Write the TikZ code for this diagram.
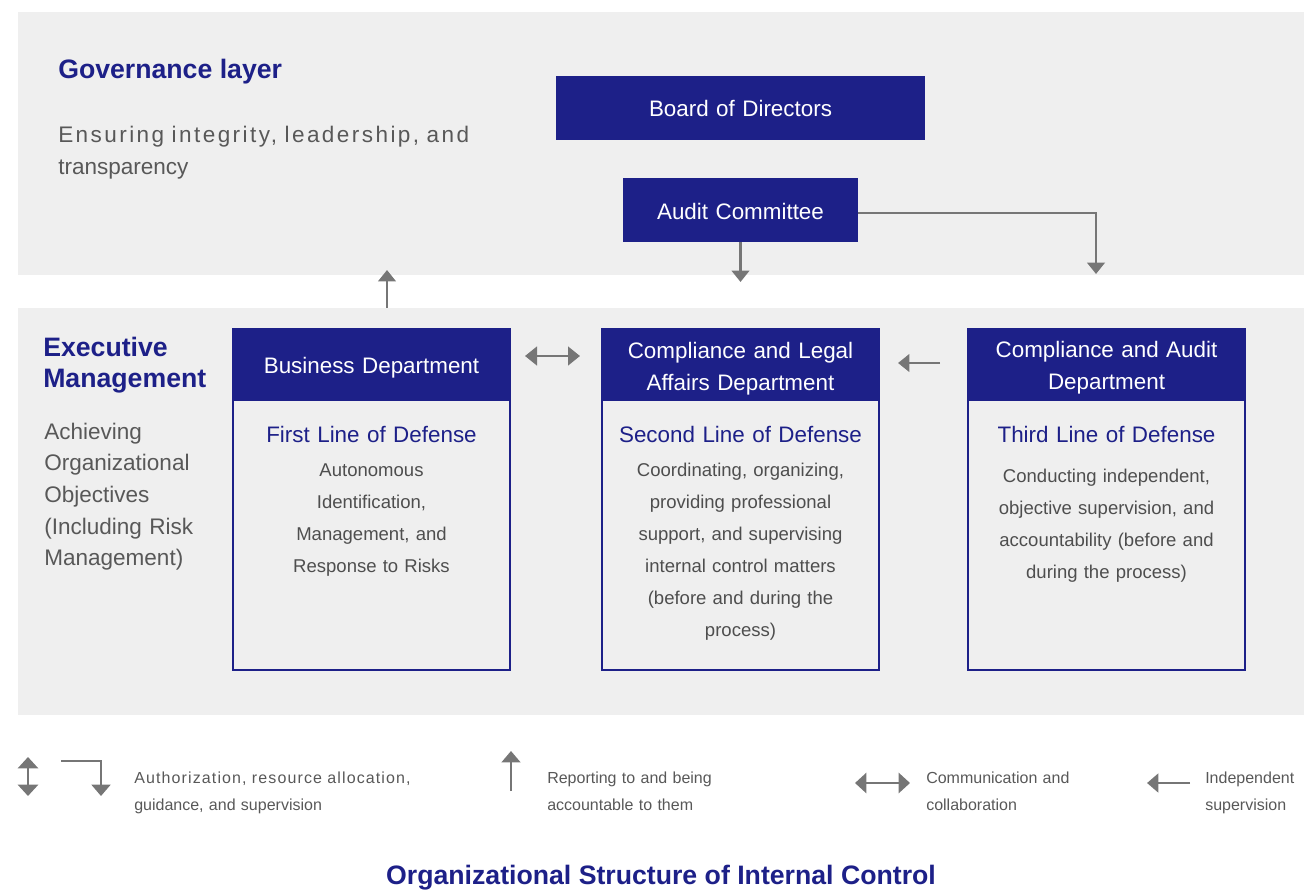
\documentclass[tikz,border=0pt]{standalone}
\usepackage{fontspec}
\setmainfont{Liberation Sans}
\usetikzlibrary{arrows.meta,fit}
\definecolor{navy}{RGB}{29,32,136}
\definecolor{bandc}{RGB}{239,239,239}
\definecolor{arr}{RGB}{118,118,118}
\definecolor{graytxt}{RGB}{88,88,88}
\definecolor{bodytxt}{RGB}{78,78,78}
\begin{document}
\begin{tikzpicture}[x=0.75pt,y=-0.75pt,
  band/.style={fill=bandc,draw=none,inner sep=0pt},
  navybox/.style={fill=navy,draw=none,inner sep=0pt},
  framebox/.style={draw=navy,line width=1.6pt,inner sep=0pt},
  hdrtext/.style={inner sep=0pt,text=white,font=\fontsize{16.8pt}{24pt}\selectfont,text width=202pt,align=center},
  linetitle/.style={inner sep=0pt,text=navy,font=\fontsize{16.8pt}{24pt}\selectfont,text width=202pt,align=center},
  bodytext/.style={inner sep=0pt,text=bodytxt,font=\fontsize{13.9pt}{24pt}\selectfont,text width=202pt,align=center},
  bighead/.style={inner sep=0pt,text=navy,font=\bfseries\fontsize{20pt}{23.25pt}\selectfont},
  sidetext/.style={inner sep=0pt,text=graytxt,font=\fontsize{16.9pt}{23.8pt}\selectfont,text width=330pt,align=left},
  legtext/.style={inner sep=0pt,text=graytxt,font=\fontsize{12pt}{20.25pt}\selectfont,text width=220pt,align=left},
  conn/.style={draw=arr,line width=2.1pt,-{Triangle[length=8.5pt,width=13pt]}},
  twoway/.style={draw=arr,line width=1.9pt,{Triangle[length=9pt,width=14pt]}-{Triangle[length=9pt,width=14pt]}},
  legconn/.style={draw=arr,line width=2.1pt,-{Triangle[length=8.5pt,width=14pt]}},
  legtwo/.style={draw=arr,line width=2.1pt,{Triangle[length=8.5pt,width=15pt]}-{Triangle[length=8.5pt,width=15pt]}}
]
\useasboundingbox (0,0) rectangle (1308,889);

% bands
\node[band,fit={(18,12)(1304,275)}] (gov) {};
\node[band,fit={(18,308)(1304,715)}] (exec) {};

% governance texts
\node[bighead,anchor=base west] (govtitle) at (58,78) {Governance layer};
\node[sidetext,anchor=base west,font=\fontsize{16.9pt}{24pt}\selectfont] (govdesc) at (58,142)
  {{\addfontfeature{LetterSpace=10.8}Ensuring integrity, leadership, and}\\transparency};

% board and audit committee
\node[navybox,fit={(556,76)(925,140)}] (board) {};
\node[hdrtext,anchor=base] (boardt) at (740.5,116) {Board of Directors};
\node[navybox,fit={(623,178)(858,242)}] (audit) {};
\node[hdrtext,anchor=base] (auditt) at (740.5,219) {Audit Committee};

% executive texts
\node[bighead,anchor=base west,text width=200pt,align=left] (exectitle) at (43,356) {Executive\\Management};
\node[sidetext,anchor=base west] (execdesc) at (44,439)
  {Achieving\\Organizational\\Objectives\\(Including Risk\\Management)};

% box 1
\node[framebox,fit={(233,329)(510,670)}] (b1) {};
\node[navybox,fit={(232,329)(511,401)}] (b1h) {};
\node[hdrtext,anchor=base] (b1ht) at (371.5,373) {Business Department};
\node[linetitle,anchor=base] (b1lt) at (371.5,442) {First Line of Defense};
\node[bodytext,anchor=base] (b1b) at (371.5,476)
  {Autonomous\\Identification,\\Management, and\\Response to Risks};

% box 2
\node[framebox,fit={(602,329)(879,670)}] (b2) {};
\node[navybox,fit={(601,329)(880,401)}] (b2h) {};
\node[hdrtext,anchor=base] (b2ht) at (740.5,358) {Compliance and Legal\\Affairs Department};
\node[linetitle,anchor=base] (b2lt) at (740.5,442) {Second Line of Defense};
\node[bodytext,anchor=base] (b2b) at (740.5,476)
  {Coordinating, organizing,\\providing professional\\support, and supervising\\internal control matters\\(before and during the\\process)};

% box 3
\node[framebox,fit={(968,329)(1245,670)}] (b3) {};
\node[navybox,fit={(967,329)(1246,401)}] (b3h) {};
\node[hdrtext,anchor=base] (b3ht) at (1106.5,357) {Compliance and Audit\\Department};
\node[linetitle,anchor=base] (b3lt) at (1106.5,442) {Third Line of Defense};
\node[bodytext,anchor=base] (b3b) at (1106.5,482)
  {Conducting independent,\\objective supervision, and\\accountability (before and\\during the process)};

% connectors
\coordinate (upTip) at (387,270);
\draw[conn] (exec.north -| upTip) -- (upTip);
\coordinate (adTip) at (740.5,282);
\draw[conn] (audit.south) -- (adTip);
\coordinate (arTip) at (1096,274);
\draw[conn] ([yshift=-2.25pt]audit.east) -| (arTip);
\coordinate (c1) at (525,356);
\coordinate (c2) at (580,356);
\draw[twoway] (c1) -- (c2);
\coordinate (s1) at (940,363);
\coordinate (s2) at (898,363);
\draw[conn] (s1) -- (s2);

% legend
\coordinate (lg1a) at (28,757);
\coordinate (lg1b) at (28,796);
\draw[legtwo] (lg1a) -- (lg1b);
\coordinate (lg2a) at (61,761);
\coordinate (lg2b) at (101,796);
\draw[legconn] (lg2a) -| (lg2b);
\node[legtext,anchor=base west] (leg1) at (134,783)
  {{\addfontfeature{LetterSpace=7}Authorization, resource allocation,}\\guidance, and supervision};
\coordinate (lg3a) at (511,791);
\coordinate (lg3b) at (511,751);
\draw[legconn,line width=1.7pt] (lg3a) -- (lg3b);
\node[legtext,anchor=base west] (leg2) at (547,783) {Reporting to and being\\accountable to them};
\coordinate (lg4a) at (855,783);
\coordinate (lg4b) at (910,783);
\draw[legtwo] (lg4a) -- (lg4b);
\node[legtext,anchor=base west] (leg3) at (926,783) {Communication and\\collaboration};
\coordinate (lg5a) at (1190,783);
\coordinate (lg5b) at (1147,783);
\draw[legconn] (lg5a) -- (lg5b);
\node[legtext,anchor=base west,text width=100pt] (leg4) at (1205,783) {Independent\\supervision};

% title
\node[bighead,anchor=base] (title) at (661,884) {Organizational Structure of Internal Control};
\end{tikzpicture}
\end{document}
